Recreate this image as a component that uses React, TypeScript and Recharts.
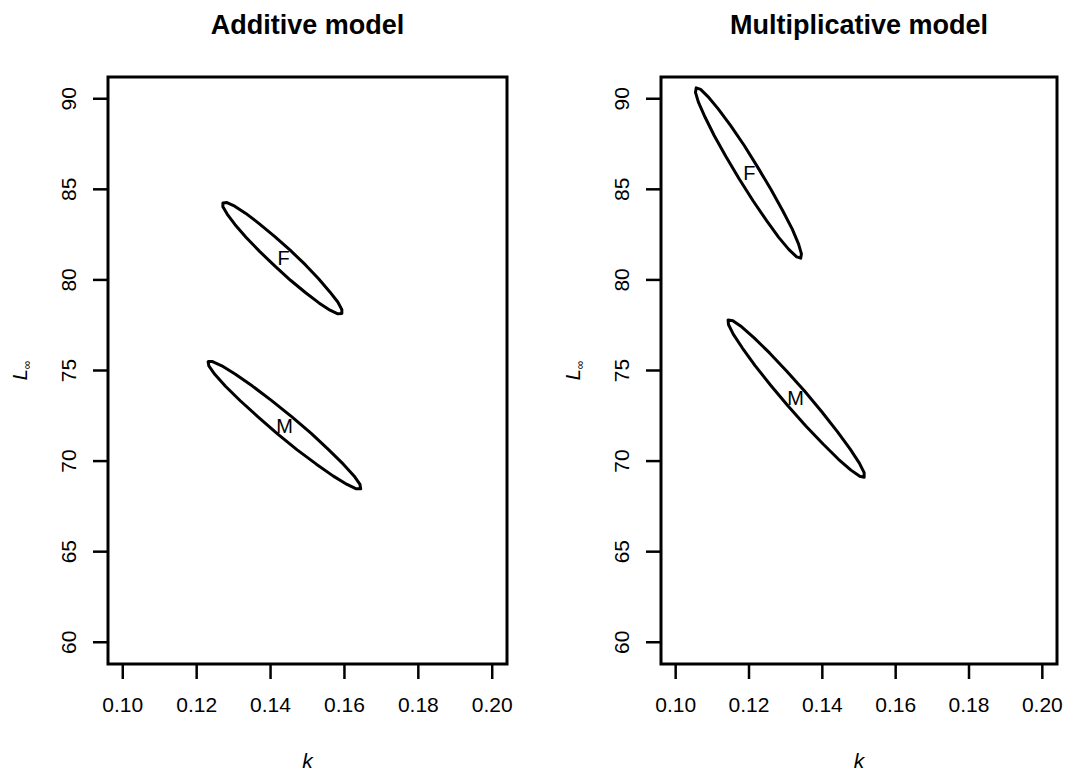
import React from 'react';
import {
  ComposedChart,
  Line,
  ReferenceArea,
  Scatter,
  XAxis,
  YAxis,
} from 'recharts';

const FONT = '"Liberation Sans", Arial, Helvetica, sans-serif';

// axis ranges (R style: 4% padding around the data range)
const K_DOMAIN: [number, number] = [0.096, 0.204];
const L_DOMAIN: [number, number] = [58.8, 91.2];
const K_TICKS = [0.1, 0.12, 0.14, 0.16, 0.18, 0.2];
const L_TICKS = [60, 65, 70, 75, 80, 85, 90];

// confidence region outlines, [k, Linf]
const ADD_F: [number, number][] = [
  [0.1593, 78.14], [0.1582, 78.13], [0.1561, 78.33], [0.1531, 78.73],
  [0.1495, 79.29], [0.1454, 79.98], [0.1412, 80.76], [0.1371, 81.56],
  [0.1334, 82.34], [0.1304, 83.05], [0.1283, 83.62], [0.1271, 84.04],
  [0.1271, 84.25], [0.1282, 84.27], [0.1303, 84.07], [0.1333, 83.67],
  [0.1369, 83.11], [0.141, 82.42], [0.1453, 81.64], [0.1494, 80.84],
  [0.153, 80.06], [0.156, 79.35], [0.1582, 78.78], [0.1593, 78.36],
];

const ADD_M: [number, number][] = [
  [0.1644, 68.47], [0.1632, 68.47], [0.1607, 68.71], [0.157, 69.17],
  [0.1524, 69.83], [0.1472, 70.62], [0.1418, 71.52], [0.1366, 72.44],
  [0.1318, 73.33], [0.1278, 74.13], [0.1249, 74.79], [0.1233, 75.25],
  [0.1231, 75.49], [0.1243, 75.49], [0.1268, 75.26], [0.1305, 74.79],
  [0.1351, 74.14], [0.1403, 73.34], [0.1457, 72.45], [0.151, 71.53],
  [0.1557, 70.63], [0.1597, 69.83], [0.1626, 69.18], [0.1642, 68.71],
];

const MUL_F: [number, number][] = [
  [0.1341, 81.2], [0.133, 81.27], [0.1309, 81.67], [0.1281, 82.35],
  [0.1248, 83.27], [0.1211, 84.37], [0.1173, 85.58], [0.1137, 86.81],
  [0.1105, 87.97], [0.108, 88.99], [0.1062, 89.81], [0.1054, 90.35],
  [0.1056, 90.6], [0.1068, 90.52], [0.1088, 90.12], [0.1116, 89.44],
  [0.115, 88.52], [0.1187, 87.42], [0.1224, 86.21], [0.126, 84.99],
  [0.1292, 83.82], [0.1318, 82.8], [0.1335, 81.99], [0.1343, 81.44],
];

const MUL_M: [number, number][] = [
  [0.1514, 69.11], [0.1502, 69.16], [0.1478, 69.5], [0.1444, 70.1],
  [0.1402, 70.94], [0.1355, 71.94], [0.1306, 73.05], [0.1259, 74.19],
  [0.1216, 75.28], [0.1182, 76.24], [0.1157, 77.01], [0.1144, 77.54],
  [0.1143, 77.79], [0.1156, 77.75], [0.118, 77.41], [0.1214, 76.8],
  [0.1256, 75.97], [0.1303, 74.96], [0.1352, 73.85], [0.1399, 72.71],
  [0.1441, 71.63], [0.1476, 70.66], [0.1501, 69.89], [0.1514, 69.36],
];

const ADD_LABELS = [
  { k: 0.1435, L: 81.2, text: 'F' },
  { k: 0.1438, L: 71.95, text: 'M' },
];
const MUL_LABELS = [
  { k: 0.1201, L: 85.9, text: 'F' },
  { k: 0.1327, L: 73.5, text: 'M' },
];

const toRows = (pts: [number, number][]) => pts.map(([k, L]) => ({ k, L }));

function YTick(props: any) {
  const { x, y, payload } = props;
  return (
    <text
      x={x}
      y={y}
      transform={`rotate(-90 ${x} ${y})`}
      textAnchor="middle"
      fontSize={21}
      fontFamily={FONT}
      fill="#000"
    >
      {payload.value}
    </text>
  );
}

function YLabel(props: any) {
  const vb = props.viewBox || {};
  const bx = vb.x + vb.width - 81;
  const cy = vb.y + vb.height / 2;
  return (
    <text
      x={bx}
      y={cy}
      transform={`rotate(-90 ${bx} ${cy})`}
      textAnchor="middle"
      fontFamily={FONT}
      fill="#000"
    >
      <tspan fontSize={20} fontStyle="italic">L</tspan>
      <tspan fontSize={12} dy={4}>∞</tspan>
    </text>
  );
}

function XLabel(props: any) {
  const vb = props.viewBox || {};
  return (
    <text
      x={vb.x + vb.width / 2}
      y={vb.y + 104}
      textAnchor="middle"
      fontSize={21}
      fontStyle="italic"
      fontFamily={FONT}
      fill="#000"
    >
      k
    </text>
  );
}

function TextMark(props: any) {
  const { cx, cy, payload } = props;
  return (
    <text
      x={cx}
      y={cy}
      dy="0.36em"
      textAnchor="middle"
      fontSize={20}
      fontFamily={FONT}
      fill="#000"
    >
      {payload.text}
    </text>
  );
}

type PanelProps = {
  title: string;
  left: number;
  width: number;
  axisWidth: number;
  rightMargin: number;
  ellipses: [number, number][][];
  labels: { k: number; L: number; text: string }[];
};

function Panel({ title, left, width, axisWidth, rightMargin, ellipses, labels }: PanelProps) {
  const plotW = width - axisWidth - rightMargin;
  return (
    <div style={{ position: 'absolute', left, top: 0, width, height: 776 }}>
      <div
        style={{
          position: 'absolute',
          left: axisWidth,
          top: 12,
          width: plotW,
          textAlign: 'center',
          fontFamily: FONT,
          fontWeight: 'bold',
          fontSize: 27,
          lineHeight: '27px',
          color: '#000',
        }}
      >
        {title}
      </div>
      <ComposedChart
        width={width}
        height={776}
        margin={{ top: 77, right: rightMargin, bottom: 52, left: 0 }}
      >
        <XAxis
          dataKey="k"
          type="number"
          domain={K_DOMAIN}
          ticks={K_TICKS}
          interval={0}
          allowDataOverflow
          axisLine={false}
          tickLine={{ stroke: '#000', strokeWidth: 2.5 }}
          tickSize={15}
          tickMargin={18}
          height={60}
          tickFormatter={(v: number) => v.toFixed(2)}
          tick={{ fill: '#000', fontSize: 21, fontFamily: FONT }}
          label={<XLabel />}
        />
        <YAxis
          dataKey="L"
          type="number"
          domain={L_DOMAIN}
          ticks={L_TICKS}
          interval={0}
          allowDataOverflow
          width={axisWidth}
          axisLine={false}
          tickLine={{ stroke: '#000', strokeWidth: 2.5 }}
          tickSize={15}
          tickMargin={17}
          tick={(p: any) => <YTick {...p} />}
          label={<YLabel />}
        />
        <ReferenceArea
          x1={K_DOMAIN[0]}
          x2={K_DOMAIN[1]}
          y1={L_DOMAIN[0]}
          y2={L_DOMAIN[1]}
          fill="none"
          stroke="#000"
          strokeWidth={3}
          ifOverflow="visible"
        />
        {ellipses.map((pts, i) => (
          <Line
            key={i}
            data={toRows(pts)}
            dataKey="L"
            type="linearClosed"
            stroke="#000"
            strokeWidth={3}
            strokeLinejoin="round"
            dot={false}
            activeDot={false}
            isAnimationActive={false}
          />
        ))}
        <Scatter
          data={labels}
          dataKey="L"
          shape={(p: any) => <TextMark {...p} />}
          isAnimationActive={false}
        />
      </ComposedChart>
    </div>
  );
}

export default function App() {
  return (
    <div
      style={{
        position: 'absolute',
        left: 0,
        top: 0,
        width: 1071,
        height: 776,
        background: '#fff',
        overflow: 'hidden',
      }}
    >
      <Panel
        title="Additive model"
        left={0}
        width={530}
        axisWidth={108}
        rightMargin={23}
        ellipses={[ADD_F, ADD_M]}
        labels={ADD_LABELS}
      />
      <Panel
        title="Multiplicative model"
        left={530}
        width={541}
        axisWidth={131}
        rightMargin={14}
        ellipses={[MUL_F, MUL_M]}
        labels={MUL_LABELS}
      />
    </div>
  );
}
